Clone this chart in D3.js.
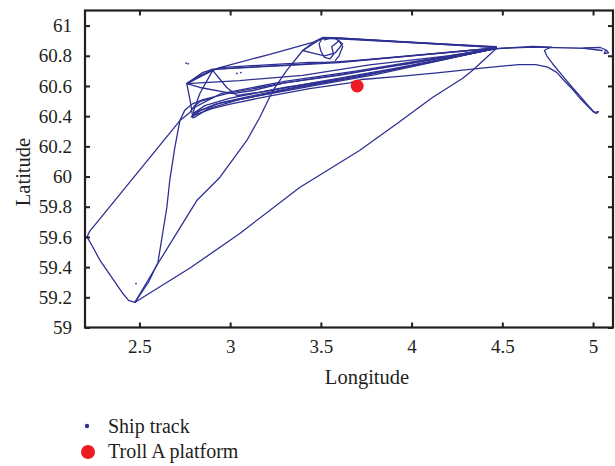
<!DOCTYPE html>
<html>
<head>
<meta charset="utf-8">
<script src="https://cdn.jsdelivr.net/npm/d3@7/dist/d3.min.js"></script>
<style>
  html, body { margin: 0; padding: 0; background: #fff; }
  svg { display: block; }
  text { font-family: "Liberation Serif", "Times New Roman", serif; fill: #231f20; }
</style>
</head>
<body>
<svg id="chart" width="615" height="466"></svg>
<script>
// Axis ticks
const lonTicks = [2.5, 3, 3.5, 4, 4.5, 5];
const latTicks = [59, 59.2, 59.4, 59.6, 59.8, 60, 60.2, 60.4, 60.6, 60.8, 61];

// Recorded ship tracks, [longitude, latitude]
const trackSouthLoop = [
  [2.90,60.52],[2.84,60.50],[2.805,60.471],[2.778,60.424],[2.723,60.371],
  [2.255,59.68],[2.227,59.64],[2.211,59.60],[2.24,59.54],
  [2.283,59.444],[2.409,59.225],[2.44,59.18],[2.475,59.166],[2.52,59.20],[2.783,59.397],
  [3.053,59.623],[3.383,59.927],[3.713,60.173],[3.93,60.36],[4.115,60.524],[4.28,60.65],
  [4.335,60.703],[4.467,60.848],[4.67,60.858],[4.95,60.85],[5.05,60.835]
];
const trackSouthNorth = [
  [2.475,59.166],[2.55,59.30],[2.602,59.431],[2.651,59.795],[2.667,59.974],
  [2.695,60.192],[2.723,60.371],[2.75,60.44],[2.79,60.48],[2.85,60.51],[3.0,60.555],
  [3.3,60.62],[3.6,60.675],[4.0,60.75],[4.467,60.848]
];
const trackSouthDiagonal = [
  [2.475,59.166],[2.602,59.424],[2.816,59.841],[2.943,59.994],[3.092,60.239],[3.163,60.391],
  [3.235,60.57],[3.312,60.703],[3.40,60.835],[3.46,60.89],[3.51,60.921],[3.6,60.918],
  [4.0,60.89],[4.467,60.857]
];
const trackUpper = [
  [2.794,60.391],[2.78,60.50],[2.761,60.616],[2.82,60.66],[2.904,60.703],[2.943,60.722],
  [3.2,60.74],[3.438,60.756],[3.603,60.758],[4.0,60.80],[4.467,60.85]
];
const trackMiddle = [
  [2.761,60.616],[3.053,60.636],[3.40,60.67],[3.768,60.740],[4.2,60.80],[4.467,60.848]
];
const trackPlatform = [
  [2.794,60.404],[2.90,60.45],[3.0,60.48],[3.2,60.53],[3.438,60.583],[3.66,60.62],
  [3.725,60.643],[3.95,60.665],[4.154,60.689],[4.4,60.72],[4.59,60.742],[4.685,60.742],
  [4.75,60.725],[4.80,60.69],[4.84,60.636],[4.886,60.58],[4.924,60.524],[4.967,60.47],
  [5.00,60.43],[5.02,60.418],[5.03,60.43]
];
const trackHook = [
  [4.467,60.848],[4.666,60.862],[4.77,60.858],[4.745,60.845],[4.732,60.835],[4.745,60.80],
  [4.776,60.749],[4.83,60.67],[4.886,60.59],[4.93,60.53],[4.963,60.484],[5.0,60.435],
  [5.01,60.424],[5.025,60.43]
];
const trackEastEnd = [
  [4.95,60.852],[5.04,60.855],[5.07,60.84],[5.062,60.815],[5.085,60.82],[5.075,60.835]
];
const trackLowerA = [
  [2.79,60.40],[2.84,60.44],[2.95,60.49],[3.1,60.53],[3.4,60.60],[3.7,60.66],[4.1,60.76],[4.467,60.848]
];
const trackLowerB = [
  [2.80,60.42],[2.86,60.47],[3.0,60.52],[3.3,60.59],[3.6,60.645],[4.0,60.73],[4.467,60.85]
];
const trackLowerC = [
  [2.785,60.395],[2.82,60.43],[2.92,60.48],[3.2,60.545],[3.5,60.61],[3.8,60.675],[4.2,60.78],[4.467,60.85]
];
const trackLowerD = [
  [2.80,60.39],[2.88,60.45],[3.05,60.51],[3.35,60.585],[3.65,60.65],[4.05,60.745],[4.467,60.849]
];
const trackRidge = [
  [2.761,60.616],[2.904,60.703],[2.943,60.722],[3.218,60.81],[3.46,60.89],[3.51,60.915],
  [3.62,60.91],[4.1,60.88],[4.467,60.856]
];
const trackLoops = [
  [3.51,60.921],[3.49,60.88],[3.50,60.83],[3.52,60.79],[3.55,60.78],[3.57,60.81],
  [3.56,60.86],[3.60,60.90],[3.62,60.86],[3.60,60.80],[3.58,60.77]
];
const trackArc = [
  [2.761,60.616],[2.833,60.59],[3.015,60.55],[3.125,60.57],[3.3,60.62],[3.6,60.67],
  [4.0,60.755],[4.467,60.848]
];
const trackCross = [
  [2.904,60.703],[2.981,60.59],[3.037,60.537],[3.2,60.565],[3.5,60.63],[3.9,60.715],[4.467,60.848]
];
const trackLink = [
  [2.904,60.703],[2.833,60.55],[2.80,60.44],[2.794,60.39]
];
const trackUpperB = [
  [2.761,60.616],[2.85,60.69],[2.904,60.71],[3.1,60.725],[3.4,60.745],[3.7,60.77],[4.467,60.852]
];
const trackUpperC = [
  [2.77,60.62],[2.90,60.71],[3.3,60.735],[3.6,60.755],[4.467,60.853]
];
const trackMiddleB = [
  [2.79,60.45],[2.95,60.55],[3.3,60.63],[3.7,60.70],[4.467,60.85]
];
const trackTopB = [
  [3.52,60.905],[3.56,60.92],[3.9,60.895],[4.467,60.86]
];
const trackTopC = [
  [3.40,60.835],[3.50,60.912],[3.58,60.917],[4.0,60.888],[4.467,60.855]
];
const trackLoopsB = [
  [3.40,60.835],[3.45,60.82],[3.52,60.80],[3.58,60.82],[3.62,60.88],[3.58,60.915]
];
const tracks = [
  trackSouthLoop, trackSouthNorth, trackSouthDiagonal, trackUpper, trackMiddle,
  trackPlatform, trackHook, trackEastEnd, trackLowerA, trackLowerB, trackLowerC,
  trackLowerD, trackRidge, trackLoops, trackArc, trackCross, trackLink, trackUpperB,
  trackUpperC, trackMiddleB, trackTopB, trackTopC, trackLoopsB
];
// Isolated position fixes
const strayFixes = [[2.757,60.752],[2.768,60.748],[3.037,60.683],[3.059,60.689],[2.481,59.291]];

// Troll A platform position
const platform = [3.70, 60.60];

const trackColor = "#2e3192";
const platformColor = "#ed1c24";

const svg = d3.select("#chart");
const x = d3.scaleLinear().domain([2.2, 5.11]).range([85, 613]);
const y = d3.scaleLinear().domain([59, 61.1]).range([327.5, 10.5]);

const plot = svg.append("g");
plot.append("clipPath").attr("id", "plotClip")
  .append("rect").attr("x", x(2.2)).attr("y", y(61.1))
  .attr("width", x(5.11) - x(2.2)).attr("height", y(59) - y(61.1));

const line = d3.line().x(d => x(d[0])).y(d => y(d[1]));

const trackG = plot.append("g").attr("clip-path", "url(#plotClip)");
trackG.selectAll("path.track").data(tracks).join("path")
  .attr("class", "track")
  .attr("d", line)
  .attr("fill", "none")
  .attr("stroke", trackColor)
  .attr("stroke-width", 1.3)
  .attr("stroke-linejoin", "round")
  .attr("stroke-linecap", "round");

trackG.selectAll("circle.fix").data(strayFixes).join("circle")
  .attr("class", "fix")
  .attr("cx", d => x(d[0])).attr("cy", d => y(d[1]))
  .attr("r", 0.9).attr("fill", trackColor);

trackG.append("circle")
  .attr("cx", x(platform[0])).attr("cy", y(platform[1]))
  .attr("r", 6.5).attr("fill", platformColor);

// Axes: ticks point inward on all four sides
const fmt = d => String(d);
const tickStyle = g => {
  g.select(".domain").remove();
  g.selectAll(".tick line").attr("stroke", "#231f20").attr("stroke-width", 2);
  g.selectAll(".tick text").style("font-size", "19px").attr("fill", "#231f20");
};
const bottom = svg.append("g").attr("transform", `translate(0,${y(59)})`)
  .call(d3.axisBottom(x).tickValues(lonTicks).tickFormat(fmt).tickSizeInner(-5).tickPadding(12))
  .call(tickStyle);
bottom.selectAll(".tick text").attr("dy", "0.71em");
svg.append("g").attr("transform", `translate(0,${y(61.1)})`)
  .call(d3.axisTop(x).tickValues(lonTicks).tickFormat("").tickSizeInner(-5))
  .call(tickStyle);
svg.append("g").attr("transform", `translate(${x(2.2)},0)`)
  .call(d3.axisLeft(y).tickValues(latTicks).tickFormat(fmt).tickSizeInner(-5).tickPadding(13))
  .call(tickStyle);
svg.append("g").attr("transform", `translate(${x(5.11)},0)`)
  .call(d3.axisRight(y).tickValues(latTicks).tickFormat("").tickSizeInner(-5))
  .call(tickStyle);

// Frame
svg.append("rect")
  .attr("x", x(2.2)).attr("y", y(61.1))
  .attr("width", x(5.11) - x(2.2)).attr("height", y(59) - y(61.1))
  .attr("fill", "none").attr("stroke", "#231f20").attr("stroke-width", 2.2);

// Axis titles
svg.append("text").attr("x", 367).attr("y", 384)
  .attr("text-anchor", "middle").style("font-size", "20.5px").text("Longitude");
svg.append("text")
  .attr("transform", "translate(30,172) rotate(-90)")
  .attr("text-anchor", "middle").style("font-size", "20.5px").text("Latitude");

// Legend
const legend = svg.append("g");
legend.append("circle").attr("cx", 87).attr("cy", 426).attr("r", 2.2).attr("fill", trackColor);
legend.append("text").attr("x", 108).attr("y", 433).style("font-size", "20px").text("Ship track");
legend.append("circle").attr("cx", 88).attr("cy", 452).attr("r", 7).attr("fill", platformColor);
legend.append("text").attr("x", 108).attr("y", 458).style("font-size", "20px").text("Troll A platform");
</script>
</body>
</html>
